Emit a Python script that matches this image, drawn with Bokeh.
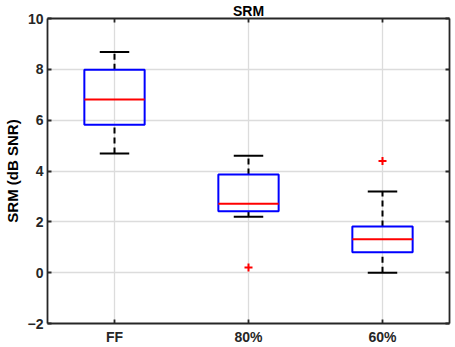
from bokeh.plotting import figure
from bokeh.models import Range1d, FixedTicker, LinearAxis, ColumnDataSource
from bokeh.transform import dodge
from bokeh.embed import file_html
from bokeh.resources import INLINE

categories = ["FF", "80%", "60%"]
positions = [1, 2, 3]
lower_whisker = [4.69, 2.20, 0.00]
q1 = [5.82, 2.42, 0.80]
median = [6.81, 2.71, 1.31]
q3 = [7.98, 3.86, 1.82]
upper_whisker = [8.68, 4.60, 3.19]
outlier_x = [2, 3]
outlier_y = [0.20, 4.39]
y_ticks = [-2, 0, 2, 4, 6, 8, 10]

FONT = "Liberation Sans"
AX = "#262626"
BOX_HALF = 0.225
CAP_HALF = 0.11
LW = 2

p = figure(width=455, height=347, output_backend="svg", toolbar_location=None,
           x_range=Range1d(0.5, 3.5), y_range=Range1d(-2, 10),
           min_border_left=45, min_border_right=6, min_border_top=0, min_border_bottom=23)
p.background_fill_color = "white"
p.border_fill_color = "white"
p.outline_line_color = None

p.title.text = "SRM"
p.title.align = "center"
p.title.text_font = FONT
p.title.text_font_style = "bold"
p.title.text_font_size = "14px"
p.title.text_color = "black"
p.title.standoff = 0

def style_axis(ax):
    ax.axis_line_color = AX
    ax.axis_line_width = 1.8
    ax.major_tick_line_color = AX
    ax.major_tick_line_width = 1.8
    ax.major_tick_in = 4
    ax.major_tick_out = 0
    ax.minor_tick_line_color = None
    ax.major_label_text_font = FONT
    ax.major_label_text_font_style = "bold"
    ax.major_label_text_color = AX
    ax.major_label_text_font_size = "14px"
    ax.major_label_standoff = 4

p.xaxis.ticker = FixedTicker(ticks=positions)
p.xaxis.major_label_overrides = {pos: c for pos, c in zip(positions, categories)}
p.yaxis.ticker = FixedTicker(ticks=y_ticks)
p.yaxis.axis_label = "SRM (dB SNR)"
p.yaxis.axis_label_text_font = FONT
p.yaxis.axis_label_text_font_style = "bold"
p.yaxis.axis_label_text_font_size = "15px"
p.yaxis.axis_label_text_color = "black"
p.yaxis.axis_label_standoff = 4
style_axis(p.xaxis[0])
style_axis(p.yaxis[0])
p.xaxis.major_label_standoff = 5

top_ax = LinearAxis(ticker=FixedTicker(ticks=positions))
right_ax = LinearAxis(ticker=FixedTicker(ticks=y_ticks))
style_axis(top_ax)
style_axis(right_ax)
top_ax.major_label_overrides = {pos: "" for pos in positions}
right_ax.major_label_overrides = {t: "" for t in y_ticks}
top_ax.major_label_standoff = 0
right_ax.major_label_standoff = 0
p.add_layout(top_ax, "above")
p.add_layout(right_ax, "right")

p.xgrid.ticker = FixedTicker(ticks=positions)
p.ygrid.ticker = FixedTicker(ticks=y_ticks)
p.grid.grid_line_color = "#dcdcdc"
p.grid.grid_line_width = 1.3

src = ColumnDataSource(dict(x=positions, lw=lower_whisker, q1=q1, med=median,
                            q3=q3, uw=upper_whisker))

# whiskers
p.segment(x0="x", y0="q3", x1="x", y1="uw", source=src, line_color="black",
          line_width=LW, line_dash="6 4")
p.segment(x0="x", y0="lw", x1="x", y1="q1", source=src, line_color="black",
          line_width=LW, line_dash="6 4")
# caps
p.segment(x0=dodge("x", -CAP_HALF), y0="uw", x1=dodge("x", CAP_HALF), y1="uw",
          source=src, line_color="black", line_width=LW)
p.segment(x0=dodge("x", -CAP_HALF), y0="lw", x1=dodge("x", CAP_HALF), y1="lw",
          source=src, line_color="black", line_width=LW)
# boxes
p.vbar(x="x", bottom="q1", top="q3", width=2 * BOX_HALF, source=src, fill_color=None,
       line_color="blue", line_width=LW)
# medians
p.segment(x0=dodge("x", -BOX_HALF), y0="med", x1=dodge("x", BOX_HALF), y1="med",
          source=src, line_color="red", line_width=LW)
# outliers
p.scatter(x=outlier_x, y=outlier_y, marker="cross", size=8, line_color="red",
          line_width=LW)

open("out.html", "w").write(file_html(p, INLINE))
